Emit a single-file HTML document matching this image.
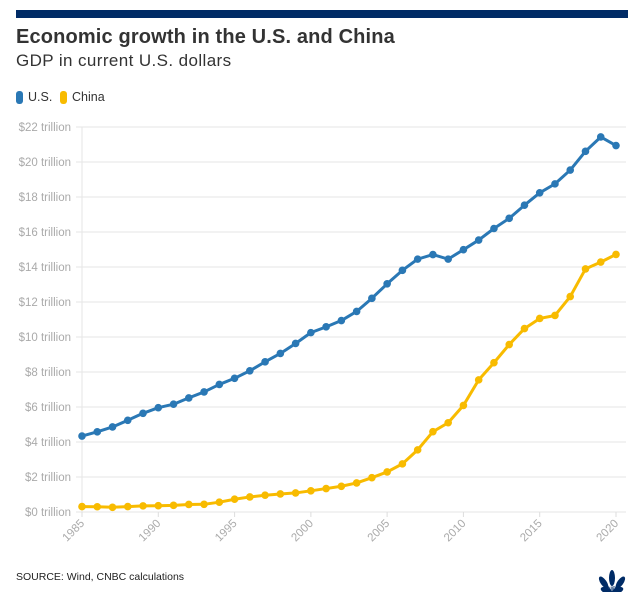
<!DOCTYPE html>
<html><head><meta charset="utf-8"><style>
body{margin:0;background:#fff;font-family:"Liberation Sans",sans-serif;}
#wrap{position:relative;width:643px;height:603px;overflow:hidden}
.bar{position:absolute;left:16px;top:10px;width:612px;height:8px;background:#002b66}
.title{position:absolute;left:16px;top:26px;font-size:20px;font-weight:bold;color:#333;letter-spacing:0.15px}
.sub{position:absolute;left:16px;top:51px;font-size:17px;color:#333;letter-spacing:0.4px}
.leg{position:absolute;top:90px;font-size:12.5px;color:#333;display:flex;align-items:center}
.sw{width:7px;height:13px;border-radius:3px;margin-right:5px}
.src{position:absolute;left:16px;top:571px;font-size:10.5px;color:#222}
</style></head><body><div id="wrap">
<div class="bar"></div>
<div class="title">Economic growth in the U.S. and China</div>
<div class="sub">GDP in current U.S. dollars</div>
<div class="leg" style="left:16px"><div class="sw" style="background:#2a78b5"></div>U.S.</div>
<div class="leg" style="left:60px"><div class="sw" style="background:#f8bb00"></div>China</div>
<svg id="chart" width="643" height="603" style="position:absolute;left:0;top:0"></svg>
<div class="src">SOURCE: Wind, CNBC calculations</div>
<svg style="position:absolute;left:596px;top:566px" width="32" height="26">
<g fill="#002b66"><ellipse cx="16" cy="12" rx="3" ry="8"/><ellipse cx="10" cy="12" rx="3" ry="7" transform="rotate(-35 16 18)"/><ellipse cx="22" cy="12" rx="3" ry="7" transform="rotate(35 16 18)"/><ellipse cx="8" cy="15" rx="3" ry="6" transform="rotate(-70 16 18)"/><ellipse cx="24" cy="15" rx="3" ry="6" transform="rotate(70 16 18)"/></g>
<text x="16" y="25" font-size="6" font-weight="bold" text-anchor="middle" fill="#002b66">CNBC</text></svg>
</div>
<script>
const years=[1985,1986,1987,1988,1989,1990,1991,1992,1993,1994,1995,1996,1997,1998,1999,2000,2001,2002,2003,2004,2005,2006,2007,2008,2009,2010,2011,2012,2013,2014,2015,2016,2017,2018,2019,2020];
const usValues=[4.34,4.58,4.86,5.24,5.64,5.96,6.16,6.52,6.86,7.29,7.64,8.07,8.58,9.06,9.63,10.25,10.58,10.94,11.46,12.21,13.04,13.81,14.45,14.71,14.45,14.99,15.54,16.20,16.78,17.53,18.24,18.75,19.54,20.61,21.43,20.94];
const chinaValues=[0.31,0.30,0.27,0.31,0.35,0.36,0.38,0.43,0.44,0.56,0.73,0.86,0.96,1.03,1.09,1.21,1.34,1.47,1.66,1.96,2.29,2.75,3.55,4.59,5.10,6.09,7.55,8.53,9.57,10.48,11.06,11.23,12.31,13.89,14.28,14.72];
const yTicks=[0,2,4,6,8,10,12,14,16,18,20,22];
const xTicks=[1985,1990,1995,2000,2005,2010,2015,2020];
const NS="http://www.w3.org/2000/svg",svg=document.getElementById('chart');
const X=y=>82+(y-1985)*(616-82)/35, Y=v=>512-v*17.5;
function mk(t,a){const e=document.createElementNS(NS,t);for(const k in a)e.setAttribute(k,a[k]);svg.appendChild(e);return e;}
yTicks.forEach(v=>{
 const l=mk('line',{x1:76,x2:626,y1:Y(v),y2:Y(v),stroke:'#e6e6e6','stroke-width':1});
 
 
 const t=mk('text',{x:71,y:Y(v)+4,'text-anchor':'end','font-size':11.5,fill:'#aaa'});t.textContent='$'+v+' trillion';
 
 
});
const ax=mk('line',{x1:82,x2:82,y1:127,y2:512,stroke:'#e6e6e6'});


xTicks.forEach(y=>{
 const tk=mk('line',{x1:X(y),x2:X(y),y1:512,y2:517,stroke:'#ddd'});
 
 
 const t=mk('text',{x:X(y)+3,y:524,'text-anchor':'end','font-size':11.5,fill:'#aaa',transform:`rotate(-45 ${X(y)+3} 524)`});t.textContent=y;
 
 
});
function series(vals,col,name){
 const p=mk('polyline',{points:vals.map((v,i)=>X(years[i])+','+Y(v)).join(' '),fill:'none',stroke:col,'stroke-width':3,'stroke-linejoin':'round'});
 
 
 vals.forEach((v,i)=>{const c=mk('circle',{cx:X(years[i]),cy:Y(v),r:3.8,fill:col});
 
 });
}
series(usValues,'#2a78b5','us');
series(chinaValues,'#f8bb00','china');
</script></body></html>
